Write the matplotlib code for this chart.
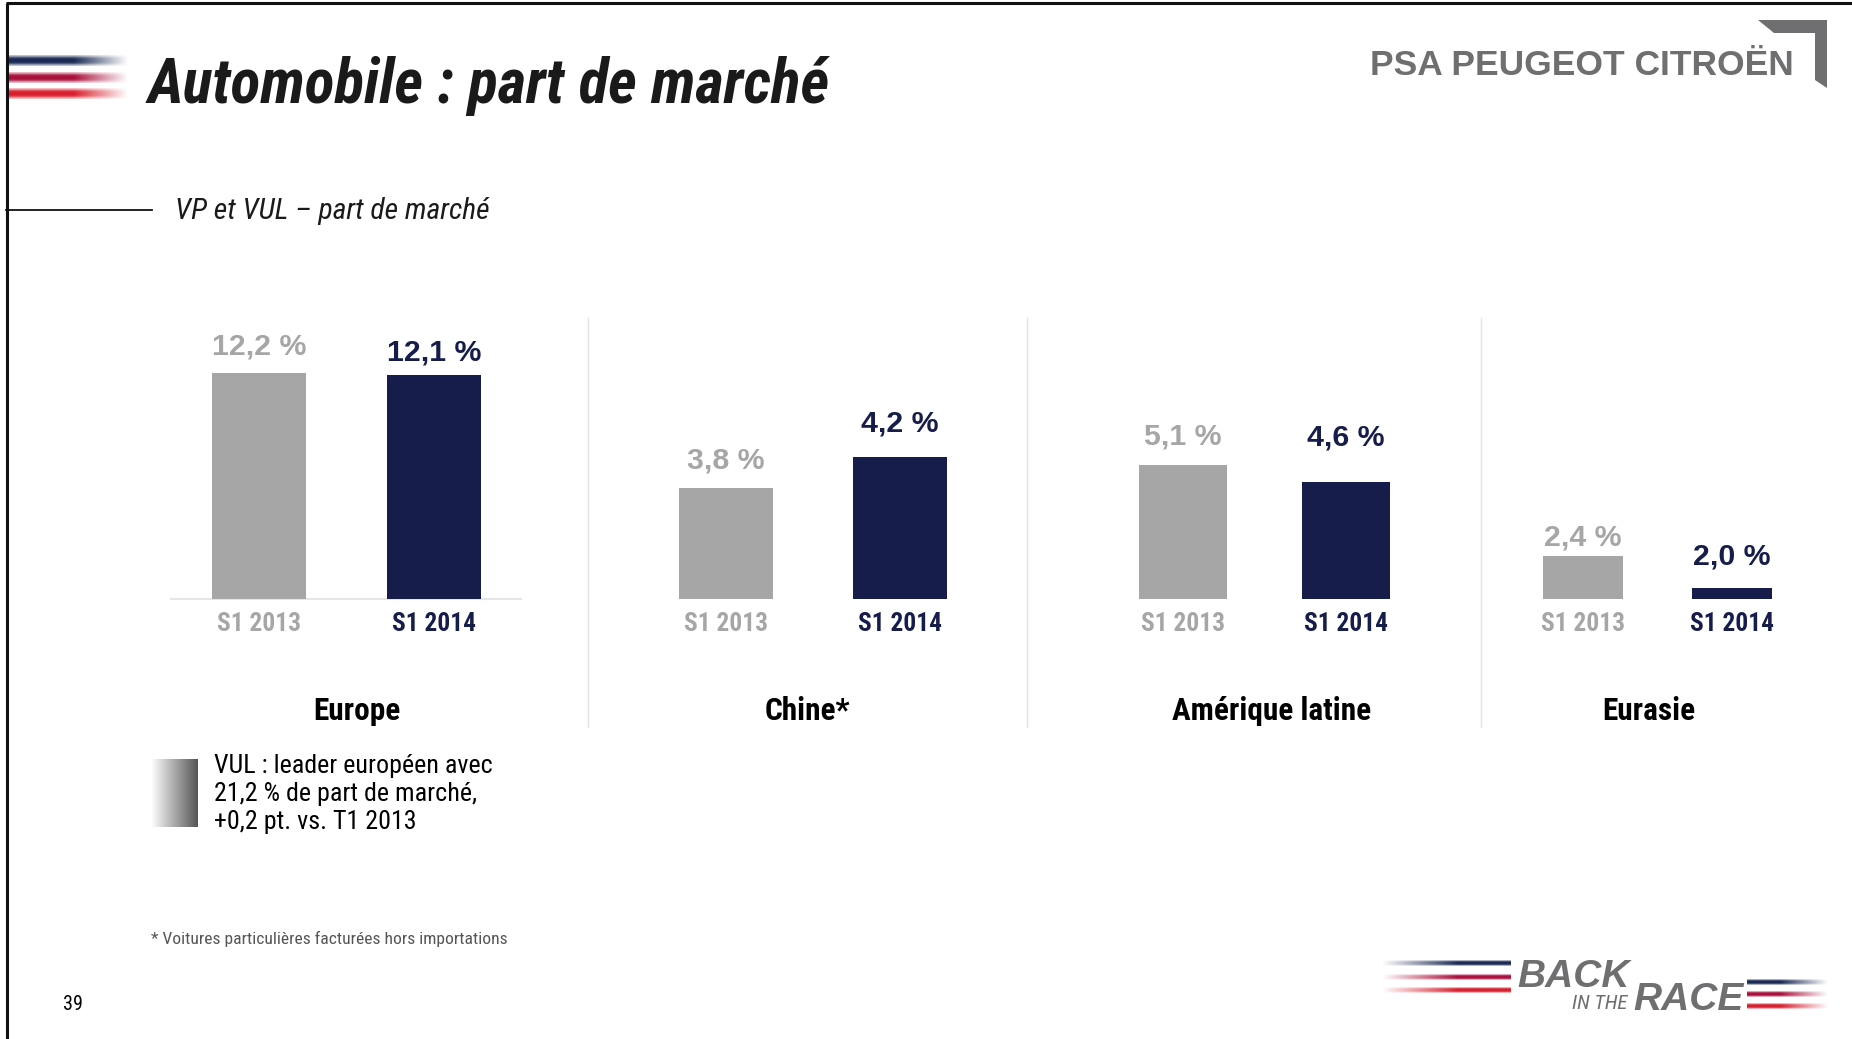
import matplotlib
matplotlib.use('Agg')
import matplotlib.pyplot as plt
import numpy as np
from matplotlib import font_manager
from matplotlib.colors import to_rgb
from matplotlib.patches import Polygon

# --- data ---
regions = ['Europe', 'Chine*', 'Amérique latine', 'Eurasie']
periods = ['S1 2013', 'S1 2014']
share_2013 = [12.2, 3.8, 5.1, 2.4]
share_2014 = [12.1, 4.2, 4.6, 2.0]

title = 'Automobile : part de marché'
subtitle = 'VP et VUL – part de marché'
vul_note = ['VUL : leader européen avec', '21,2 % de part de marché,', '+0,2 pt. vs. T1 2013']
footnote = '* Voitures particulières facturées hors importations'
page_no = '39'

# --- look ---
W, H = 1852, 1039
names = {f.name for f in font_manager.fontManager.ttflist}
SANS = 'Liberation Sans'
NARROW = SANS
for cand in ['Arial Narrow', 'Liberation Sans Narrow', 'Roboto Condensed', 'Archivo Narrow',
             'PT Sans Narrow', 'IBM Plex Sans Condensed']:
    if cand in names:
        NARROW = cand
        break

GREY = '#a6a6a6'
NAVY = '#161d4a'
LOGO_GREY = '#6f6f71'
FLAG = ['#1b2a55', '#a8123c', '#d8202f']

# each panel has its own scale (only Europe starts at zero)
bar_px = [(259, 434), (726, 900), (1183, 1346), (1583, 1732)]
region_px = [357, 807, 1272, 1649]
ylims = [(0, 14.54), (2.37, 5.84), (1.16, 9.07), (1.86, 5.23)]
gap_2013 = [27, 28, 29, 18]
gap_2014 = [23, 34, 45, 31]
base_y, top_y = 599, 330


def fig_box(x0, y0, x1, y1):
    return [x0 / W, 1 - y1 / H, (x1 - x0) / W, (y1 - y0) / H]


fig = plt.figure(figsize=(W / 100, H / 100), dpi=100)
deco = fig.add_axes([0, 0, 1, 1])
deco.axis('off')
deco.set_autoscale_on(False)
deco.set_xlim(0, W)
deco.set_ylim(H, 0)


def stripe(x0, x1, yc, th, color, fade, solid=1.7):
    t = np.linspace(0, 1, 300)
    if fade == 'right':
        a = np.clip((1 - t) * solid, 0, 1)
    else:
        a = np.clip(t * solid, 0, 1)
    v = np.array([0.3, 0.75, 1, 1, 1, 0.75, 0.3])
    rgba = np.zeros((len(v), len(t), 4))
    rgba[..., :3] = to_rgb(color)
    rgba[..., 3] = v[:, None] * a[None, :]
    deco.imshow(rgba, extent=(x0, x1, yc + th / 2, yc - th / 2), aspect='auto',
                interpolation='bilinear', zorder=2)


# slide frame
deco.plot([6, W], [3, 3], color='#111111', lw=2.2, solid_capstyle='butt')
deco.plot([7, 7], [3, H], color='#111111', lw=2.2, solid_capstyle='butt')

# title block
for yc, col in zip([61, 78, 94], FLAG):
    stripe(9, 128, yc, 11, col, 'right', solid=2.2)
deco.text(148, 103, title, fontsize=44.5, fontweight='bold', style='italic',
          family=NARROW, color='#1a1a1a', va='baseline', ha='left')
deco.plot([6, 152], [210, 210], color='#111111', lw=1.3)
deco.text(175, 211, subtitle, fontsize=21.3, style='italic', family=NARROW,
          color='#1a1a1a', va='center', ha='left')

# PSA logo
deco.text(1370, 75, 'PSA PEUGEOT CITROËN', fontsize=25.5, fontweight='bold',
          family=SANS, color=LOGO_GREY, va='baseline', ha='left')
deco.add_patch(Polygon([(1758, 20), (1827, 20), (1827, 88), (1815, 80), (1815, 33), (1774, 33)],
                       closed=True, color=LOGO_GREY, lw=0))

# panel separators
for x in [588, 1027, 1481]:
    deco.plot([x, x], [318, 727], color='#e3e3e3', lw=1)

# bar panels
for i, region in enumerate(regions):
    c0, c1 = bar_px[i]
    sp = c1 - c0
    ax = fig.add_axes(fig_box(c0 - sp, top_y, c1 + sp, base_y))
    ax.set_facecolor('none')
    ax.set_xlim(-1, 2)
    ax.set_ylim(*ylims[i])
    vals = [share_2013[i], share_2014[i]]
    ax.bar([0, 1], vals, width=0.54, color=[GREY, NAVY])
    for x, v, gap, col in zip([0, 1], vals, [gap_2013[i], gap_2014[i]], [GREY, NAVY]):
        ax.annotate(f'{v:.1f} %'.replace('.', ','), (x, v), xytext=(0, gap),
                    textcoords='offset pixels', ha='center', va='center',
                    fontsize=21.8, fontweight='bold', color=col, family=SANS,
                    annotation_clip=False)
    ax.set_xticks([0, 1], periods)
    ax.tick_params(axis='x', length=0, pad=9.5)
    for lab, col in zip(ax.get_xticklabels(), [GREY, NAVY]):
        lab.set_color(col)
        lab.set_fontsize(18.3)
        lab.set_fontweight('bold')
        lab.set_family(NARROW)
    ax.set_yticks([])
    for s in ax.spines.values():
        s.set_visible(False)
    ax.text((region_px[i] - c0) / sp, -0.416, region, transform=ax.get_xaxis_transform(),
            ha='center', va='center', fontsize=22.5, fontweight='bold', family=NARROW,
            color='black')
    if i == 0:
        ax.plot([-0.5, 1.5], [ylims[i][0]] * 2, color='#e6e6e6', lw=1.5, clip_on=False, zorder=0)

# VUL note with grey gradient tab
g = np.linspace(0, 1, 200)
grad = np.ones((1, 200, 3))
grad[..., :] = (1 - g[None, :, None]) * 1.0 + g[None, :, None] * 0.33
deco.imshow(grad, extent=(151, 198, 827, 759), aspect='auto', interpolation='bilinear', zorder=2)
deco.text(214, 794, '\n'.join(vul_note), fontsize=18.7, family=NARROW, color='black',
          va='center', ha='left', linespacing=1.2)

deco.text(151, 939, footnote, fontsize=12.6, family=NARROW, color='#555555', va='center', ha='left')
deco.text(63, 1005, page_no, fontsize=14.5, family=NARROW, color='black', va='center', ha='left')

# BACK IN THE RACE logo
for yc, col in zip([963, 977, 990], FLAG):
    stripe(1382, 1511, yc, 6, col, 'left')
for yc, col in zip([982, 994, 1006], FLAG):
    stripe(1747, 1828, yc, 6, col, 'right')
deco.text(1517, 987, 'BACK', fontsize=28, fontweight='bold', style='italic', family=SANS,
          color=LOGO_GREY, va='baseline', ha='left')
deco.text(1572, 1009, 'IN THE', fontsize=15, style='italic', family=NARROW,
          color=LOGO_GREY, va='baseline', ha='left')
deco.text(1633, 1010, 'RACE', fontsize=28, fontweight='bold', style='italic', family=SANS,
          color=LOGO_GREY, va='baseline', ha='left')

fig.savefig('out.png', dpi=100)
